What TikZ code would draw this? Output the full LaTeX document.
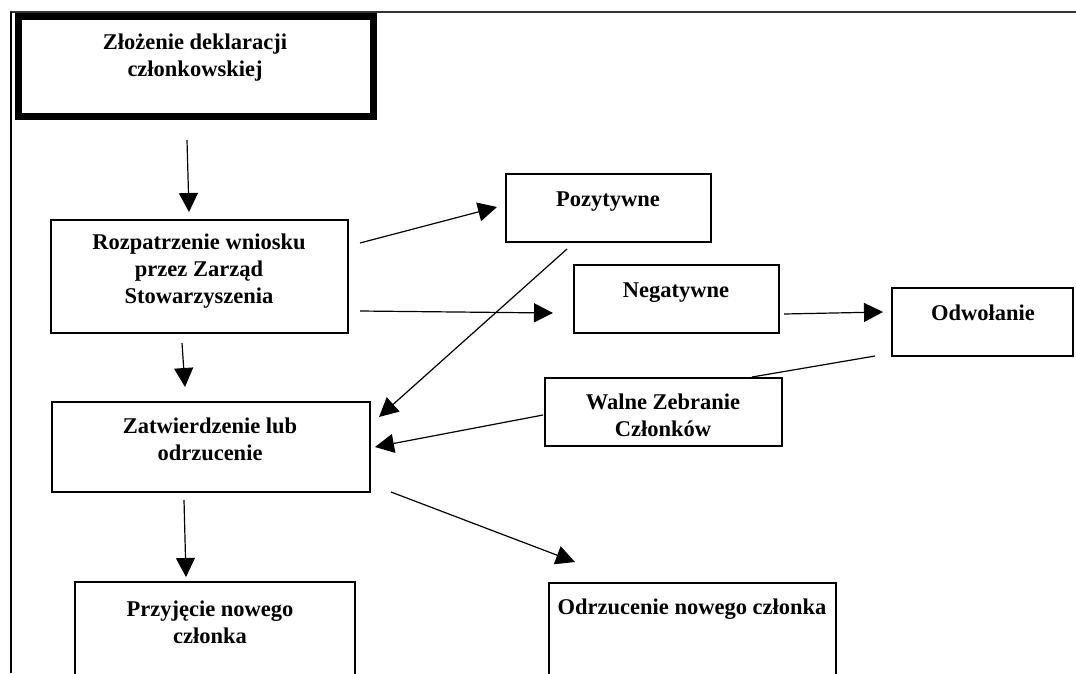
\documentclass[tikz,border=0pt]{standalone}
\usepackage{fontspec}
\setmainfont{Liberation Serif}
\usetikzlibrary{arrows.meta,calc}

\begin{document}
\begin{tikzpicture}[x=1pt, y=-1pt, every node/.style={outer sep=0pt}]

% Box and text styles
\tikzstyle{box}=[draw, line width=1.4, minimum width=200, minimum height=68, inner sep=0pt]
\tikzstyle{startbox}=[draw, line width=7, inner sep=0pt]
\tikzstyle{txt}=[align=center, inner sep=0pt, font=\bfseries\fontsize{22.5}{27}\selectfont]
\tikzstyle{flow}=[line width=1.2, -{Triangle[length=19pt,width=19pt]}]

\useasboundingbox (0,0) rectangle (1076,673);

% page frame
\draw[line width=2, gray!40!black] (10,12) -- (1076,12);
\draw[line width=2] (10.5,12) -- (10.5,673);

%%%%%%%%%%%%%%%%%%%%%%%%%%%%%%%%%%%%%%%%%%%%%%%%%%%%%%%%%%%%%%%%%
%
%       Boxes
%
\node (zlozenie)      [startbox, minimum width=355, minimum height=100] at (196,66.5)  {};
\node (rozpatrzenie)  [box, minimum width=297, minimum height=113]      at (199.5,276.5) {};
\node (pozytywne)     [box, minimum width=205]                          at (608.5,208) {};
\node (negatywne)     [box, minimum width=205]                          at (676.5,299) {};
\node (odwolanie)     [box, minimum width=181]                          at (982.5,322) {};
\node (walne)         [box, minimum width=237]                          at (663.5,412) {};
\node (zatwierdzenie) [box, minimum width=318, minimum height=90]       at (211,447)   {};
\node (przyjecie)     [box, minimum width=280, minimum height=116]      at (215,640)   {};
\node (odrzucenie)    [box, minimum width=287, minimum height=116]      at (692.5,641) {};

%%%%%%%%%%%%%%%%%%%%%%%%%%%%%%%%%%%%%%%%%%%%%%%%%%%%%%%%%%%%%%%%%
%
%       Texts
%
\node (zlozenieT)      [txt] at (195,57.5)  {Złożenie deklaracji\\członkowskiej};
\node (rozpatrzenieT)  [txt] at (199,271)   {Rozpatrzenie wniosku\\przez Zarząd\\Stowarzyszenia};
\node (pozytywneT)     [txt] at (608,202)   {Pozytywne};
\node (negatywneT)     [txt] at (676,293)   {Negatywne};
\node (odwolanieT)     [txt] at (983,313)   {Odwołanie};
\node (walneT)         [txt] at (663,415)   {Walne Zebranie\\Członków};
\node (zatwierdzenieT) [txt] at (210,439)   {Zatwierdzenie lub\\odrzucenie};
\node (przyjecieT)     [txt] at (210,622)   {Przyjęcie nowego\\członka};
\node (odrzucenieT)    [txt] at (692,609)   {Odrzucenie nowego członka};

%%%%%%%%%%%%%%%%%%%%%%%%%%%%%%%%%%%%%%%%%%%%%%%%%%%%%%%%%%%%%%%%%
%
%       Connector ends
%
\coordinate (zlOut)  at (187,140);
\coordinate (rzIn)   at (189,212);
\coordinate (rzOutA) at (182,343);
\coordinate (ztInA)  at (185,387);
\coordinate (rzOutB) at (360,243);
\coordinate (pzIn)   at (497,207);
\coordinate (rzOutC) at (360,311);
\coordinate (ngIn)   at (553,313);
\coordinate (pzOut)  at (567,249);
\coordinate (ztInB)  at (379,417);
\coordinate (ngOut)  at (784,314);
\coordinate (odIn)   at (883,312);
\coordinate (odOut)  at (875,356);
\coordinate (wzIn)   at (752,377);
\coordinate (wzOut)  at (543,415);
\coordinate (ztInC)  at (375,447);
\coordinate (ztOutA) at (184,500);
\coordinate (prIn)   at (186,577);
\coordinate (ztOutB) at (391,492);
\coordinate (orIn)   at (575,562);

% arrows
\draw [flow] (zlOut)  -- (rzIn);
\draw [flow] (rzOutA) -- (ztInA);
\draw [flow] (rzOutB) -- (pzIn);
\draw [flow] (rzOutC) -- (ngIn);
\draw [flow] (pzOut)  -- (ztInB);
\draw [flow] (ngOut)  -- (odIn);
\draw [line width=1.2] (odOut) -- (wzIn);
\draw [flow] (wzOut)  -- (ztInC);
\draw [flow] (ztOutA) -- (prIn);
\draw [flow] (ztOutB) -- (orIn);

\end{tikzpicture}
\end{document}
